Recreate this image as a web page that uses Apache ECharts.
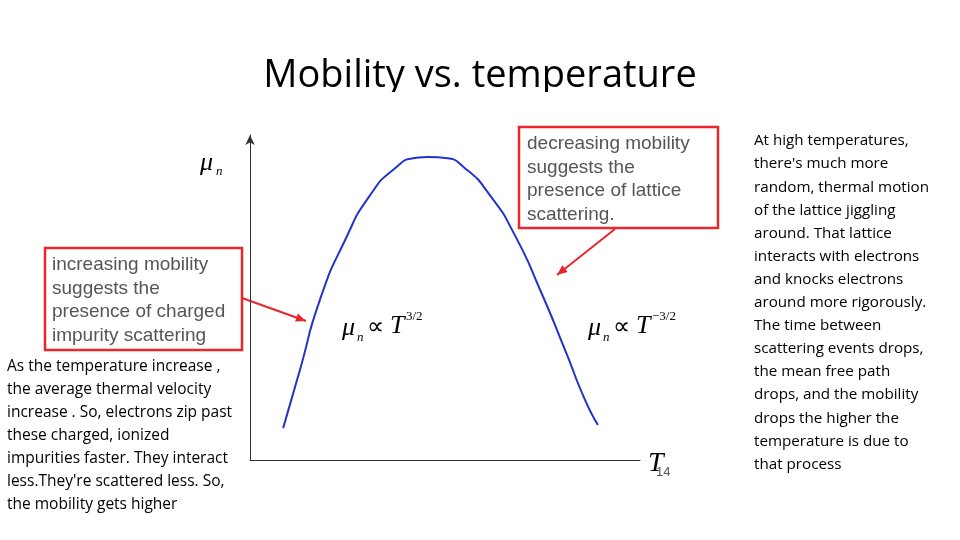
<!DOCTYPE html>
<html><head><meta charset="utf-8">
<script src="https://cdn.jsdelivr.net/npm/echarts@6/dist/echarts.min.js"></script>
<style>html,body{margin:0;padding:0;background:#fff}#c{width:960px;height:540px}</style>
</head><body><div id="c"></div>
<script>
const curveX = [8.5,12.8,17.9,24.4,30.8,37.2,42.3,45.6,50,55.1,61.5,67.9,74.4,80.8,85.9,89.2];
const curveY = [9.8,27.7,49.2,67.7,81.5,89.8,92.9,93.2,92.9,89.8,81.5,69.2,52.3,33.8,18.5,10.8];
const titleText = 'Mobility vs. temperature';
const leftBox = ['increasing mobility','suggests the','presence of charged','impurity scattering'];
const rightBox = ['decreasing mobility','suggests the','presence of lattice','scattering.'];
const leftText = ['As the temperature increase ,','the average thermal velocity','increase . So, electrons zip past','these charged, ionized','impurities faster. They interact','less.They\'re scattered less. So,','the mobility gets higher'];
const rightText = ['At high temperatures,','there\'s much more','random, thermal motion','of the lattice jiggling','around. That lattice','interacts with electrons','and knocks electrons','around more rigorously.','The time between','scattering events drops,','the mean free path','drops, and the mobility','drops the higher the','temperature is due to','that process'];

const chart = echarts.init(document.getElementById('c'));
const g = [];
g.push({type:'text',left:'center',top:57,style:{text:titleText,font:'38px "Open Sans", sans-serif',fill:'#000'}});
g.push({type:'rect',shape:{x:0,y:92,width:960,height:30},style:{fill:'#fff'}});
function lines(arr,x,y,dy,font,fill){arr.forEach((t,i)=>g.push({type:'text',x:x,y:y+i*dy,style:{text:t,font:font,fill:fill,textVerticalAlign:'middle'}}));}
g.push({type:'rect',shape:{x:45,y:248,width:197,height:102},style:{fill:'#fff',stroke:'#e8262b',lineWidth:2.5}});
g.push({type:'rect',shape:{x:519,y:127,width:199,height:101},style:{fill:'#fff',stroke:'#e8262b',lineWidth:2.5}});
lines(leftBox,52,265,23.5,'19px "Liberation Sans", Arial, sans-serif','#555');
lines(rightBox,527,144,23.5,'19px "Liberation Sans", Arial, sans-serif','#555');
lines(leftText,7,367,23,'15.5px "Open Sans", sans-serif','#000');
lines(rightText,754,141,23.1,'15.2px "Open Sans", sans-serif','#000');
function arrow(x1,y1,x2,y2){
  g.push({type:'line',shape:{x1,y1,x2,y2},style:{stroke:'#e8262b',lineWidth:2}});
  const a=Math.atan2(y2-y1,x2-x1),L=11,w=0.4;
  g.push({type:'polygon',shape:{points:[[x2,y2],[x2-L*Math.cos(a-w),y2-L*Math.sin(a-w)],[x2-L*Math.cos(a+w),y2-L*Math.sin(a+w)]]},style:{fill:'#e8262b'}});
}
arrow(242,298,306,321);
arrow(615,229,557,275);
const serif='italic 26px "Liberation Serif", serif';
g.push({type:'text',x:200,y:163,style:{text:'μ',font:serif,fill:'#000',textVerticalAlign:'middle'}});
g.push({type:'text',x:216,y:172,style:{text:'n',font:'italic 13px "Liberation Serif", serif',fill:'#000',textVerticalAlign:'middle'}});
function law(x,exp){
  g.push({type:'text',x:x,y:328,style:{text:'μ',font:serif,fill:'#000',textVerticalAlign:'middle'}});
  g.push({type:'text',x:x+15,y:338,style:{text:'n',font:'italic 13px "Liberation Serif", serif',fill:'#000',textVerticalAlign:'middle'}});
  g.push({type:'text',x:x+25,y:328,style:{text:'∝',font:'24px "Liberation Serif", serif',fill:'#000',textVerticalAlign:'middle'}});
  g.push({type:'text',x:x+48,y:326,style:{text:'T',font:serif,fill:'#000',textVerticalAlign:'middle'}});
  g.push({type:'text',x:x+64,y:317,style:{text:exp,font:'13px "Liberation Serif", serif',fill:'#000',textVerticalAlign:'middle'}});
}
law(342,'3/2'); law(588,'−3/2');
g.push({type:'text',x:648,y:464,style:{text:'T',font:'italic 28px "Liberation Serif", serif',fill:'#000',textVerticalAlign:'middle'}});
g.push({type:'text',x:656,y:472,style:{text:'14',font:'13px "Liberation Sans", sans-serif',fill:'#555',textVerticalAlign:'middle'}});

chart.setOption({
  animation:false,
  grid:{left:250,top:135,width:390,height:325},
  xAxis:{type:'value',min:0,max:100,axisLine:{show:true,lineStyle:{color:'#333',width:1}},axisTick:{show:false},axisLabel:{show:false},splitLine:{show:false}},
  yAxis:{type:'value',min:0,max:100,axisLine:{show:true,symbol:['none','arrow'],symbolSize:[7,10],lineStyle:{color:'#333',width:1}},axisTick:{show:false},axisLabel:{show:false},splitLine:{show:false}},
  series:[{type:'line',smooth:0.6,symbol:'none',lineStyle:{color:'#2233cc',width:2},data:curveX.map((x,i)=>[x,curveY[i]])}],
  graphic:g
});
</script></body></html>
